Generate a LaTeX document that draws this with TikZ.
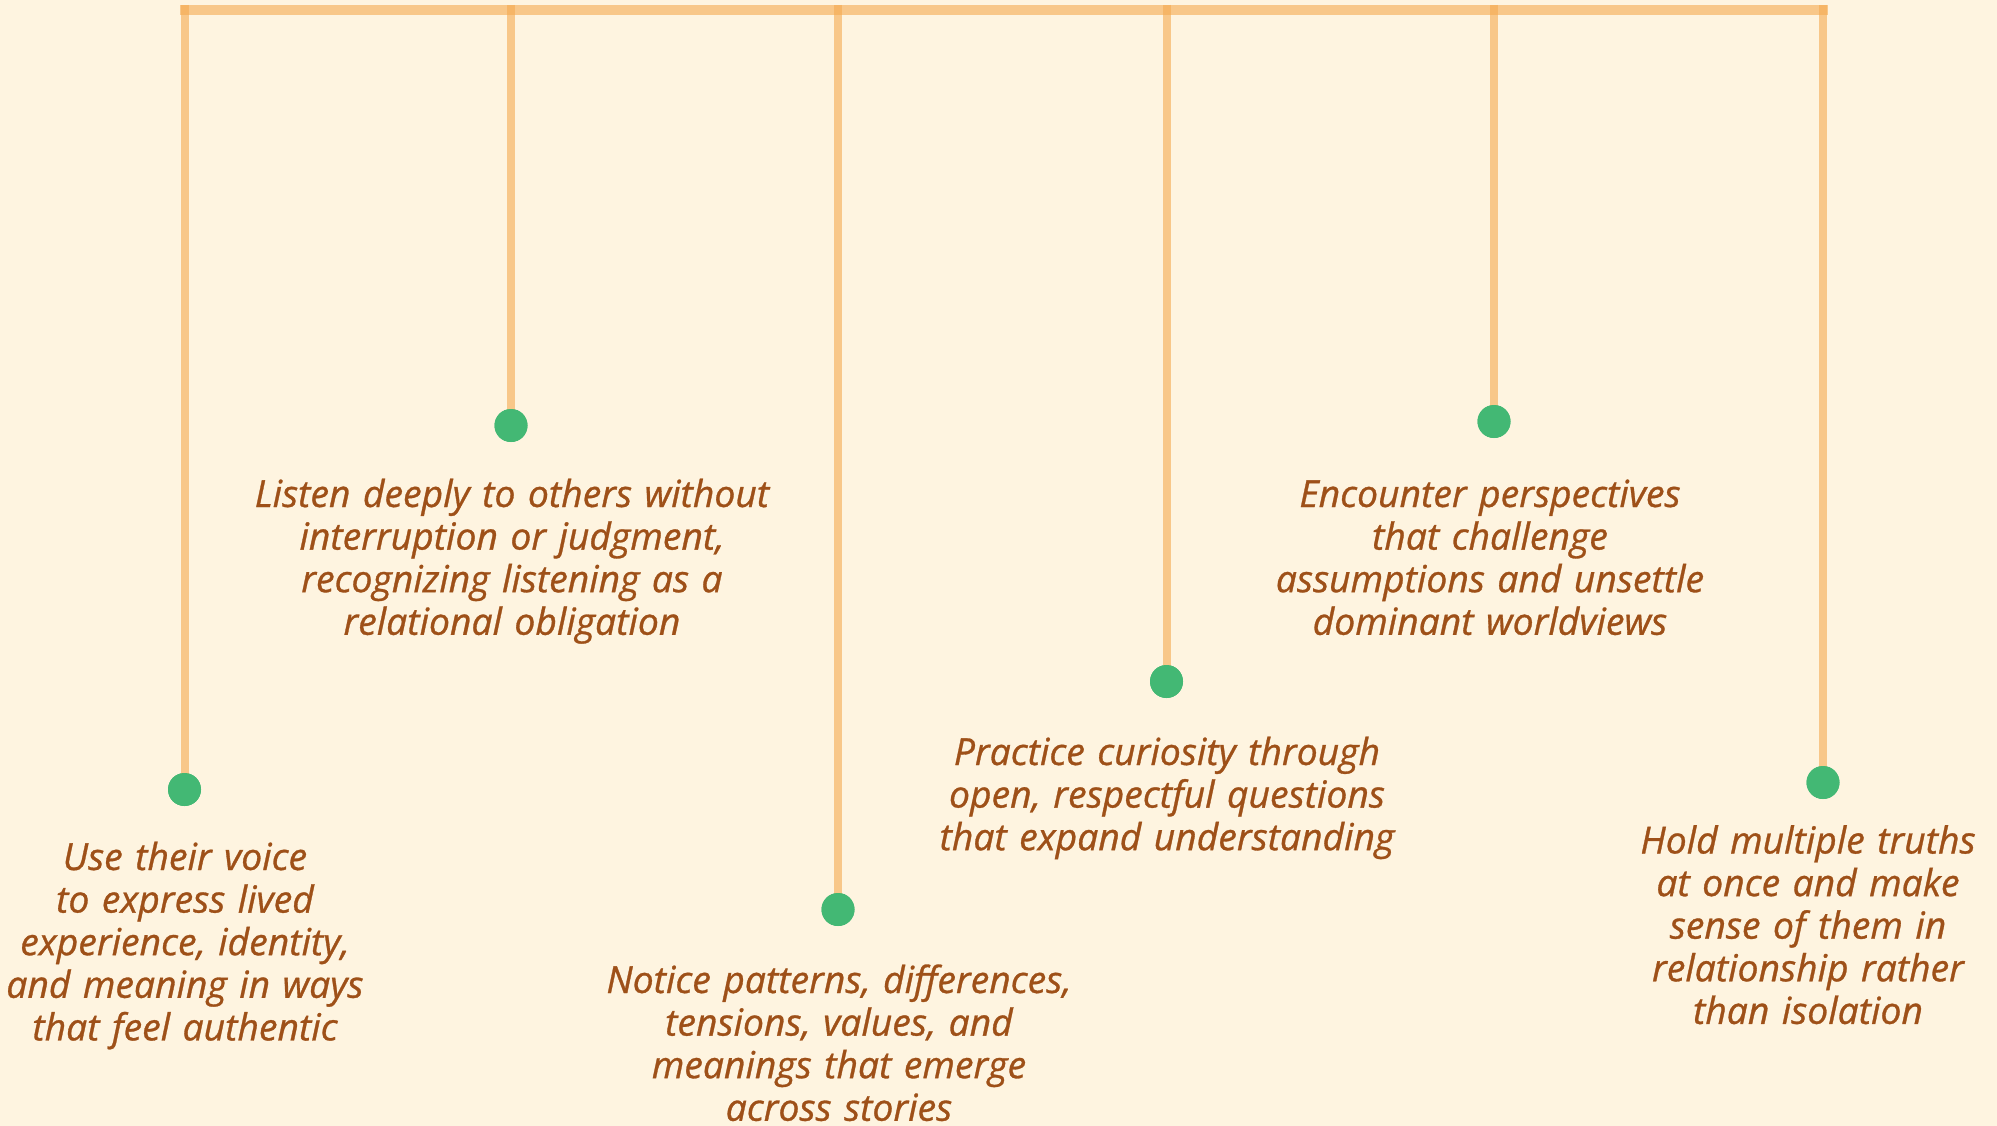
\documentclass[tikz,border=0pt]{standalone}
\usepackage{fontspec}
\setmainfont{Open Sans}[ItalicFeatures={FakeBold=0.8}]
\definecolor{bg}{RGB}{254,244,224}
\definecolor{stem}{RGB}{245,170,80}
\definecolor{dotgreen}{RGB}{67,184,116}
\definecolor{label}{RGB}{158,80,24}
\tikzset{
  stemline/.style={draw=stem, draw opacity=0.6, line width=8pt},
  barline/.style={draw=stem, draw opacity=0.6, line width=10pt},
  dot/.style={circle, fill=dotgreen, minimum size=33pt, inner sep=0pt},
  caption/.style={text=label, anchor=base, align=center, text width=600pt, inner sep=0pt,
    font=\fontsize{37.3}{42.6}\selectfont\itshape}
}
\begin{document}
\begin{tikzpicture}[x=1pt,y=-1pt]
  \fill[bg] (0,0) rectangle (1997,1126);
  \useasboundingbox (0,0) rectangle (1997,1126);

  % top rail
  \coordinate (railL) at (180,10);
  \coordinate (railR) at (1828,10);
  \draw[barline] (railL) -- (railR);

  % stem tops
  \coordinate (t1) at (184.5,5);
  \coordinate (t2) at (511,5);
  \coordinate (t3) at (838,5);
  \coordinate (t4) at (1166.5,5);
  \coordinate (t5) at (1494,5);
  \coordinate (t6) at (1823,5);

  % end points
  \node[dot] (d1) at (184.5,789.5) {};
  \node[dot] (d2) at (511,425.5) {};
  \node[dot] (d3) at (838,909.5) {};
  \node[dot] (d4) at (1166.5,681.5) {};
  \node[dot] (d5) at (1494,421.5) {};
  \node[dot] (d6) at (1823,782.5) {};

  \foreach \i in {1,...,6} {
    \draw[stemline] (t\i) -- (d\i.center);
  }
  % redraw dots above the stems
  \foreach \i in {1,...,6} {
    \fill[dotgreen] (d\i) circle (16.5pt);
  }

  % captions
  \node[caption] (c1) at (185,870) {Use their voice\\to express lived\\experience, identity,\\and meaning in ways\\that feel authentic};
  \node[caption] (c2) at (512,507) {Listen deeply to others without\\interruption or judgment,\\recognizing listening as a\\relational obligation};
  \node[caption] (c3) at (839,993) {Notice patterns, differences,\\tensions, values, and\\meanings that emerge\\across stories};
  \node[caption] (c4) at (1167,765) {Practice curiosity through\\open, respectful questions\\that expand understanding};
  \node[caption] (c5) at (1490,507) {Encounter perspectives\\that challenge\\assumptions and unsettle\\dominant worldviews};
  \node[caption] (c6) at (1808,853.5) {Hold multiple truths\\at once and make\\sense of them in\\relationship rather\\than isolation};
\end{tikzpicture}
\end{document}
